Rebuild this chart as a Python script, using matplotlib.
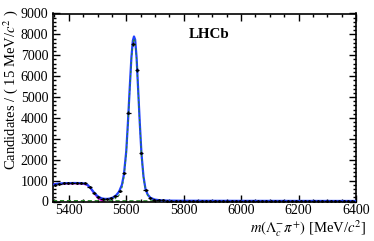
import matplotlib
matplotlib.use("Agg")
import matplotlib.pyplot as plt
import numpy as np

plt.rcParams['font.family'] = ['Liberation Serif', 'DejaVu Serif']
plt.rcParams['mathtext.fontset'] = 'stix'

# binned data, 15 MeV bins
bin_centers = [5352.5 + 15 * i for i in range(70)]
counts = [790, 860, 880, 890, 900, 890, 900, 870, 690, 420,
          230, 140, 120, 150, 260, 488, 1350, 4250, 7540, 6295,
          2336, 550, 180, 90, 60, 52, 45, 40, 42, 38,
          35, 36, 33, 30, 34, 31, 29, 30, 28, 27,
          29, 26, 27, 25, 26, 24, 25, 23, 24, 22,
          23, 22, 21, 22, 20, 21, 20, 19, 21, 19,
          18, 20, 18, 19, 17, 18, 17, 16, 17, 16]

# total fit curve
fit_x = [5345, 5360, 5380, 5400, 5420, 5440, 5455, 5465, 5475, 5485,
         5495, 5505, 5515, 5525, 5535, 5545, 5555, 5565, 5575, 5585,
         5592, 5600, 5606, 5612, 5618, 5623, 5627, 5631, 5636, 5641,
         5647, 5653, 5660, 5667, 5675, 5685, 5700, 5720, 5750, 5800,
         6000, 6200, 6400]
fit_y = [800, 850, 870, 880, 885, 880, 860, 800, 660, 480,
         320, 210, 150, 125, 125, 145, 200, 300, 470, 800,
         1300, 2400, 3800, 5400, 6900, 7700, 7900, 7750, 6900, 5500,
         3800, 2300, 1200, 600, 320, 170, 90, 55, 40, 35,
         30, 27, 25]

# signal component (dashed)
sig_x = [5560, 5575, 5585, 5592, 5600, 5606, 5612, 5618, 5623, 5627,
         5631, 5636, 5641, 5647, 5653, 5660, 5667, 5675, 5685, 5700, 5720]
sig_y = [120, 300, 660, 1170, 2270, 3680, 5290, 6790, 7600, 7800,
         7660, 6820, 5420, 3730, 2240, 1150, 560, 285, 140, 60, 25]

# partially reconstructed background
part_x = [5345, 5380, 5420, 5450, 5465, 5475, 5485, 5495, 5505, 5515, 5522]
part_y = [840, 850, 860, 845, 780, 640, 450, 270, 130, 40, 0]

# combinatorial background
comb_x = [5345, 5600, 5800, 6000, 6200, 6400]
comb_y = [40, 32, 28, 24, 21, 18]

fig = plt.figure(figsize=(3.74, 2.41), dpi=100)
ax = fig.add_axes([53 / 374, 1 - 201.5 / 241, 303 / 374, 188 / 241])

ax.plot(comb_x, comb_y, color='#2a8a2a', ls=(0, (3, 2)), lw=1.0, zorder=2)
ax.plot(part_x, part_y, color='#e000e0', lw=1.2, zorder=2)
ax.plot(fit_x, fit_y, color='#1f3fff', lw=1.6, zorder=3)
ax.plot(sig_x, sig_y, color='#2a8a2a', ls=(0, (2, 2)), lw=0.8, zorder=4)
ax.errorbar(bin_centers, counts, xerr=7.5, yerr=np.sqrt(counts), fmt='.',
            color='black', ms=2, elinewidth=0.9, capsize=0, zorder=5)

ax.set_xlim(5345, 6400)
ax.set_ylim(0, 9000)
ax.set_xticks([5400, 5600, 5800, 6000, 6200, 6400])
ax.set_yticks(range(0, 9001, 1000))
ax.xaxis.set_minor_locator(matplotlib.ticker.MultipleLocator(50))
ax.yaxis.set_minor_locator(matplotlib.ticker.MultipleLocator(200))
ax.tick_params(which='both', direction='in', top=True, right=True,
               labelsize=10, width=1.0)
ax.tick_params(which='major', length=5)
ax.tick_params(which='minor', length=2.5)
ax.tick_params(axis='x', pad=2)
for s in ax.spines.values():
    s.set_linewidth(1.2)

ax.set_ylabel(r'Candidates / ( 15 MeV/$c^{2}$ )', fontsize=10.5, loc='top')
ax.yaxis.set_label_coords(-0.108, 1.02)
fig.text(366 / 374, 1 - 229 / 241, r'$m(\Lambda_c^{-}\pi^{+})$ [MeV/$c^{2}$]',
         ha='right', va='center', fontsize=10.5)
fig.text(189 / 374, 1 - 35 / 241, 'LHCb', fontweight='bold', fontsize=10.8,
         ha='left', va='center')

fig.savefig('out.png', dpi=100)
